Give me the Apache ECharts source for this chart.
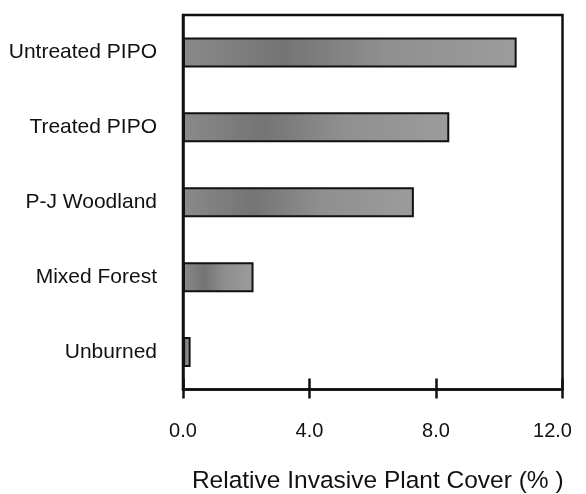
<!DOCTYPE html>
<html>
<head>
<meta charset="utf-8">
<script src="https://cdn.jsdelivr.net/npm/echarts@6/dist/echarts.min.js"></script>
<style>
html,body{margin:0;padding:0;background:#fff;}
#chart{width:586px;height:494px;}
</style>
</head>
<body>
<div id="chart"></div>
<script>
const categories = ['Untreated PIPO', 'Treated PIPO', 'P-J Woodland', 'Mixed Forest', 'Unburned'];
const coverValues = [10.55, 8.42, 7.30, 2.23, 0.24];
const xTicks = [0, 4, 8, 12];
const xTitle = 'Relative Invasive Plant Cover (% )';

const chart = echarts.init(document.getElementById('chart'), null, {renderer: 'canvas'});
const font = 'Liberation Sans, Arial, sans-serif';
const ink = '#111';
const xMax = xTicks[xTicks.length - 1];
chart.setOption({
  animation: false,
  backgroundColor: '#fff',
  grid: {
    left: 183, right: 23.5, top: 15, bottom: 104.5,
    outerBoundsMode: 'none', containLabel: false,
    show: true, borderColor: ink, borderWidth: 2.5, backgroundColor: 'transparent'
  },
  xAxis: [
    {
      type: 'value', position: 'bottom',
      min: xTicks[0], max: xMax, interval: 4,
      splitLine: {show: false},
      axisLine: {show: true, lineStyle: {color: ink, width: 2.5}},
      axisTick: {show: true, inside: false, length: 9, lineStyle: {color: ink, width: 2.5}},
      axisLabel: {
        show: true, margin: 32, color: ink, fontFamily: font, fontSize: 20,
        formatter: v => v === xMax ? '{last|' + v.toFixed(1) + '}' : v.toFixed(1),
        rich: {last: {color: ink, fontFamily: font, fontSize: 20, padding: [0, 20, 0, 0]}}
      },
      name: xTitle, nameLocation: 'middle', nameGap: 79,
      nameTextStyle: {color: ink, fontFamily: font, fontSize: 24.5, padding: [0, 0, 0, 10]}
    },
    {
      type: 'value', position: 'bottom',
      min: xTicks[0], max: xMax, interval: 4,
      splitLine: {show: false},
      axisLine: {show: false},
      axisTick: {show: true, inside: true, length: 11, lineStyle: {color: ink, width: 2.5}},
      axisLabel: {show: false}
    }
  ],
  yAxis: {
    type: 'category', data: categories, inverse: true,
    axisLine: {show: true, lineStyle: {color: ink, width: 2.5}},
    axisTick: {show: false},
    axisLabel: {margin: 26, color: ink, fontFamily: font, fontSize: 21}
  },
  series: [{
    type: 'bar', xAxisIndex: 0, data: coverValues, barWidth: '40%',
    itemStyle: {
      borderColor: ink, borderWidth: 2,
      color: {
        type: 'linear', x: 0, y: 0, x2: 1, y2: 0,
        colorStops: [
          {offset: 0, color: '#8a8a8a'},
          {offset: 0.3, color: '#747474'},
          {offset: 0.6, color: '#8f8f8f'},
          {offset: 1, color: '#9c9c9c'}
        ]
      }
    }
  }]
});
</script>
</body>
</html>
